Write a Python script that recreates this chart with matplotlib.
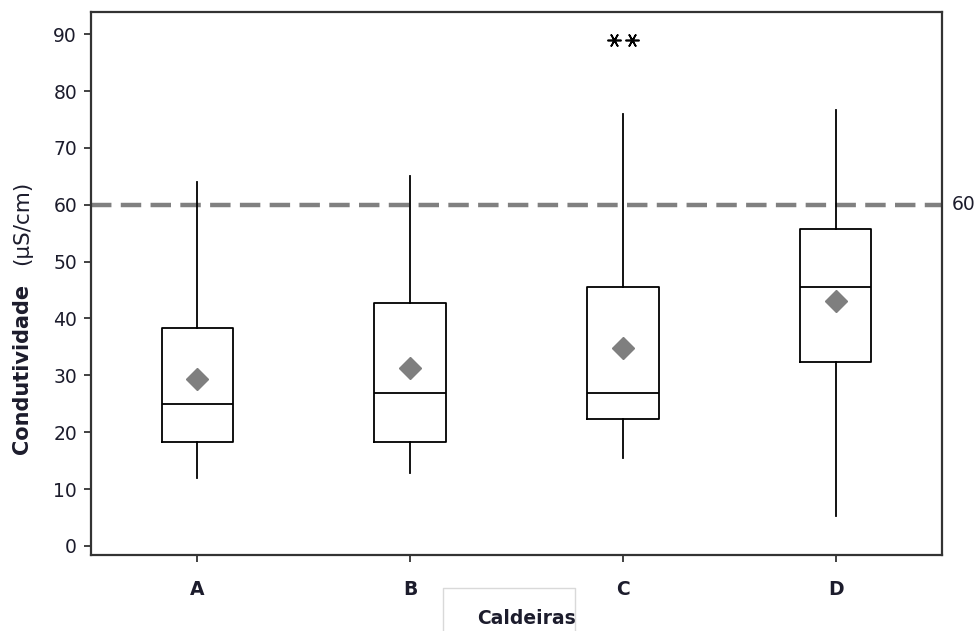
import matplotlib
matplotlib.use("Agg")
import matplotlib.pyplot as plt
from matplotlib.lines import Line2D
import matplotlib.transforms as mtransforms

# Boiler conductivity summary statistics
categories = ["A", "B", "C", "D"]
whisker_low = [12.0, 12.8, 15.5, 5.3]
q1 = [18.3, 18.2, 22.4, 32.3]
median = [25.0, 26.9, 26.9, 45.6]
q3 = [38.3, 42.7, 45.6, 55.8]
whisker_high = [64.0, 65.0, 76.0, 76.7]
means = [29.4, 31.3, 34.8, 43.0]
outliers = {"C": [89.0, 89.0]}
limit_value = 60
yticks = [0, 10, 20, 30, 40, 50, 60, 70, 80, 90]

text_color = "#1c1c2c"
plt.rcParams["font.family"] = ["DejaVu Sans"]

fig = plt.figure(figsize=(9.78, 6.31), dpi=100)
ax = fig.add_axes([91 / 978, 1 - 555 / 631, (942 - 91) / 978, (555 - 12) / 631])

positions = list(range(len(categories)))
stats = []
for i, c in enumerate(categories):
    stats.append(dict(label=c, whislo=whisker_low[i], q1=q1[i], med=median[i],
                      q3=q3[i], whishi=whisker_high[i], fliers=[]))

line_kw = dict(color="black", linewidth=1.3)
ax.bxp(stats, positions=positions, widths=0.335, showcaps=False, showfliers=False,
       boxprops=line_kw, whiskerprops=line_kw, medianprops=line_kw,
       capprops=line_kw)

# mean symbols
ax.plot(positions, means, linestyle="none", marker="D", markersize=11,
        color="#7f7f7f", zorder=5)

# outliers, spread slightly so they don't overlap
for c, vals in outliers.items():
    x0 = categories.index(c)
    n = len(vals)
    offs = [(k - (n - 1) / 2) * 0.085 for k in range(n)]
    ax.plot([x0 + o for o in offs], vals, linestyle="none",
            marker=(6, 2, 90), markersize=10, markeredgewidth=1.2,
            color="black", zorder=5)

# reference line
ax.axhline(limit_value, color="#808080", linewidth=3.2,
           dashes=(4.6, 2.1), zorder=1)
trans = mtransforms.blended_transform_factory(ax.transAxes, ax.transData)
ax.text(1.011, limit_value, str(limit_value), transform=trans, ha="left",
        va="center", fontsize=13.5, color=text_color, clip_on=False)

ax.set_xlim(-0.5, 3.5)
ax.set_ylim(-1.6, 93.9)
ax.set_yticks(yticks)
ax.set_yticklabels([str(v) for v in yticks], fontsize=13.5, color=text_color)
ax.set_xticks(positions)
ax.set_xticklabels(categories, fontsize=13.5, fontweight="bold", color=text_color)
ax.tick_params(axis="both", direction="out", length=5, width=1.3, color="#333333")
ax.tick_params(axis="x", pad=13)
ax.tick_params(axis="y", pad=5)
for s in ax.spines.values():
    s.set_linewidth(1.6)
    s.set_color("#333333")

# y-axis title in two parts
ax.text(-0.081, 0.342, "Condutividade", transform=ax.transAxes, rotation=90,
        ha="center", va="center", fontsize=15, fontweight="bold", color=text_color)
ax.text(-0.081, 0.612, "(µS/cm)", transform=ax.transAxes, rotation=90,
        ha="center", va="center", fontsize=15.5, color=text_color)

# x-axis title with its light frame
fig.text(527 / 978, 1 - 619 / 631, "Caldeiras", ha="center", va="center",
         fontsize=13.5, fontweight="bold", color=text_color)
fx = [443 / 978, 443 / 978, 575 / 978, 575 / 978]
fy = [0.0, 1 - 588 / 631, 1 - 588 / 631, 0.0]
fig.add_artist(Line2D(fx, fy, transform=fig.transFigure, color="#d9d9d9",
                      linewidth=1.0))

fig.savefig("out.png", dpi=100)
